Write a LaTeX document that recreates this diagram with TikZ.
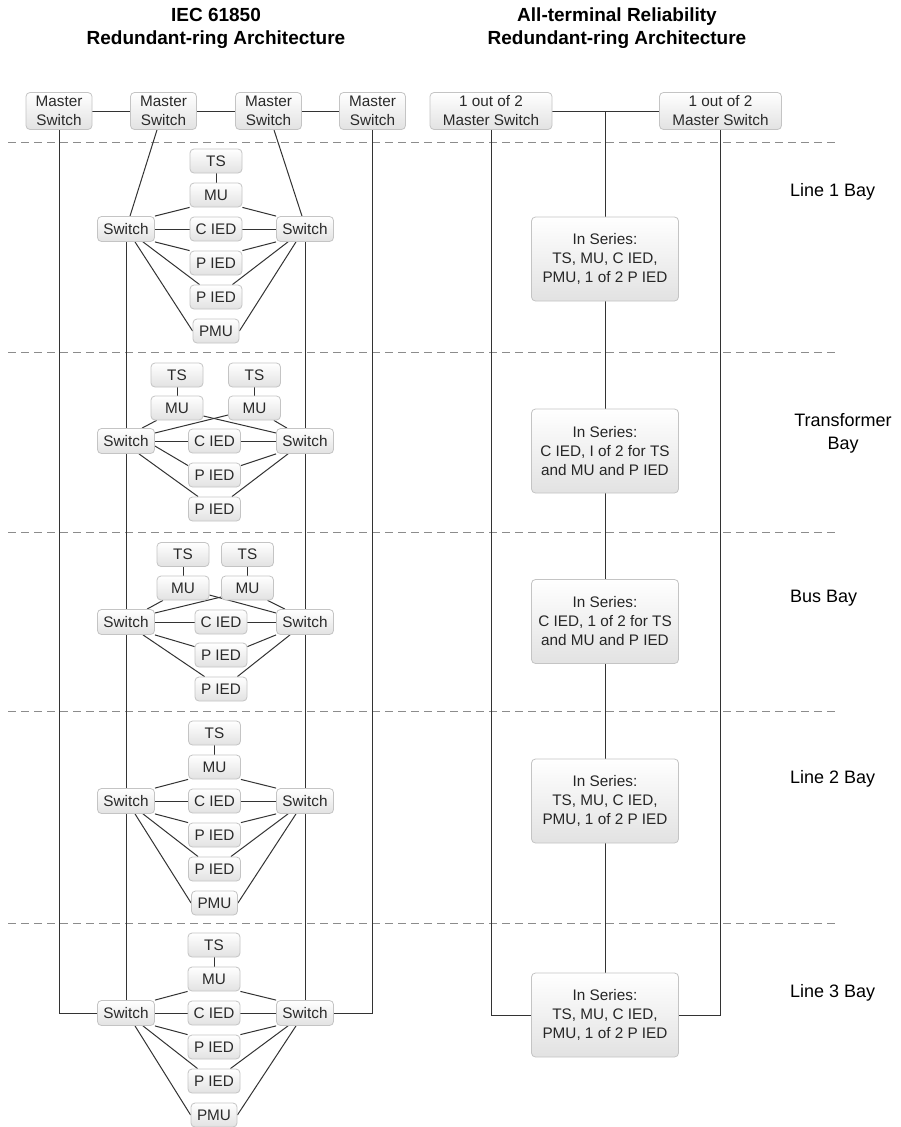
\documentclass[tikz,border=0pt]{standalone}
\usepackage{fontspec}
\setmainfont{Liberation Sans}
\usetikzlibrary{calc}
\pgfdeclarelayer{back}
\pgfdeclarelayer{bg}
\pgfsetlayers{back,bg,main}
\definecolor{boxborder}{HTML}{C4C4C4}
\definecolor{boxbottom}{HTML}{E2E2E2}
\definecolor{boxtext}{HTML}{2A2A2A}
\definecolor{wirec}{HTML}{333333}
\definecolor{dashc}{HTML}{8C8C8C}
\tikzset{
  box/.style={draw=boxborder, line width=0.8pt, rounded corners=4pt, top color=white, bottom color=boxbottom,
    font=\fontsize{15.3}{19}\selectfont, text=boxtext, inner sep=0pt, minimum height=24pt, align=center},
  small/.style={box, minimum width=52pt},
  pmubox/.style={box, minimum width=46pt},
  swbox/.style={box, minimum width=57pt, minimum height=25pt},
  masterbox/.style={box, minimum width=66pt, minimum height=37pt},
  omaster/.style={box, minimum width=122pt, minimum height=37pt},
  seriesbox/.style={box, minimum width=147pt, minimum height=84pt, text=black!85},
  wire/.style={draw=wirec, line width=1pt},
  baydash/.style={draw=dashc, line width=0.8pt, dash pattern=on 8pt off 5pt},
  baylabel/.style={font=\fontsize{18}{23}\selectfont, text=black, inner sep=0pt},
  titlelabel/.style={font=\bfseries\fontsize{19}{23}\selectfont, text=black, align=center, inner sep=0pt}
}
% line-type bay: #1 prefix, #2 column x, #3 switch-row y
\newcommand{\linebay}[3]{%
  \node[small] (#1ts) at (#2,{#3-68}) {TS};
  \node[small] (#1mu) at (#2,{#3-34}) {MU};
  \node[swbox] (#1L) at (126,#3) {Switch};
  \node[small] (#1c) at (#2,#3) {C IED};
  \node[swbox] (#1R) at (305,#3) {Switch};
  \node[small] (#1p1) at (#2,{#3+34}) {P IED};
  \node[small] (#1p2) at (#2,{#3+68}) {P IED};
  \node[pmubox] (#1pmu) at (#2,{#3+102}) {PMU};
  \begin{pgfonlayer}{bg}
  \draw[wire] (#1ts) -- (#1mu);
  \draw[wire] (#1L.north east) -- (#1mu.south west);
  \draw[wire] (#1R.north west) -- (#1mu.south east);
  \draw[wire] (#1L) -- (#1c);
  \draw[wire] (#1c) -- (#1R);
  \draw[wire] (#1L.south east) -- (#1p1.north west);
  \draw[wire] (#1R.south west) -- (#1p1.north east);
  \draw[wire] ([xshift=17pt]#1L.south) -- ([xshift=10pt]#1p2.north west);
  \draw[wire] ([xshift=-17pt]#1R.south) -- ([xshift=-10pt]#1p2.north east);
  \draw[wire] ([xshift=9pt]#1L.south) -- (#1pmu.west);
  \draw[wire] ([xshift=-9pt]#1R.south) -- (#1pmu.east);
  \end{pgfonlayer}
}
\begin{document}
\begin{tikzpicture}[x=1pt,y=-1pt]
\useasboundingbox (0,0) rectangle (900,1127);
\begin{pgfonlayer}{back}
\fill[white] (0,0) rectangle (900,1127);
\end{pgfonlayer}

% titles
\node[titlelabel] (t1) at (216,28.5) {IEC 61850\\Redundant-ring Architecture};
\node[titlelabel] (t2) at (617,28.5) {All-terminal Reliability\\Redundant-ring Architecture};

% bay separators
\begin{pgfonlayer}{back}
\foreach \yy in {142,352,532,711,923}
  \draw[baydash] (8,\yy) -- (835,\yy);
\end{pgfonlayer}

% ---------- left: IEC 61850 ----------
\node[masterbox] (m1) at (59,111) {Master\\Switch};
\node[masterbox] (m2) at (163.5,111) {Master\\Switch};
\node[masterbox] (m3) at (268.5,111) {Master\\Switch};
\node[masterbox] (m4) at (372.5,111) {Master\\Switch};

% Line 1 bay
\linebay{A}{216}{229}

% Transformer bay
\node[small] (Bts1) at (177,375) {TS};
\node[small] (Bts2) at (254.5,375) {TS};
\node[small] (Bmu1) at (177,408) {MU};
\node[small] (Bmu2) at (254.5,408) {MU};
\node[swbox] (BL) at (126,441) {Switch};
\node[small] (Bc) at (214.5,441) {C IED};
\node[swbox] (BR) at (305,441) {Switch};
\node[small] (Bp1) at (214.5,475) {P IED};
\node[small] (Bp2) at (214.5,509) {P IED};

% Bus bay
\node[small] (Cts1) at (183,554.5) {TS};
\node[small] (Cts2) at (247.5,554.5) {TS};
\node[small] (Cmu1) at (183,588) {MU};
\node[small] (Cmu2) at (247.5,588) {MU};
\node[swbox] (CL) at (126,622) {Switch};
\node[small] (Cc) at (221,622) {C IED};
\node[swbox] (CR) at (305,622) {Switch};
\node[small] (Cp1) at (221,655) {P IED};
\node[small] (Cp2) at (221,689) {P IED};

% Line 2 bay
\linebay{D}{214.5}{801}
% Line 3 bay
\linebay{E}{214}{1013}

% ---------- right: all-terminal reliability ----------
\node[omaster] (om1) at (491,111) {1 out of 2\\Master Switch};
\node[omaster] (om2) at (720.5,111) {1 out of 2\\Master Switch};
\coordinate (jn) at (605,111);
\node[seriesbox] (s1) at (605,259) {In Series:\\TS, MU, C IED,\\PMU, 1 of 2 P IED};
\node[seriesbox] (s2) at (605,451) {In Series:\\C IED, I of 2 for TS\\and MU and P IED};
\node[seriesbox] (s3) at (605,621.5) {In Series:\\C IED, 1 of 2 for TS\\and MU and P IED};
\node[seriesbox] (s4) at (605,801) {In Series:\\TS, MU, C IED,\\PMU, 1 of 2 P IED};
\node[seriesbox] (s5) at (605,1015) {In Series:\\TS, MU, C IED,\\PMU, 1 of 2 P IED};

% bay labels
\node[baylabel, anchor=west] (l1) at (790,192) {Line 1 Bay};
\node[baylabel, align=center] (l2) at (843,433.5) {Transformer\\Bay};
\node[baylabel, anchor=west] (l3) at (790,598) {Bus Bay};
\node[baylabel, anchor=west] (l4) at (790,779) {Line 2 Bay};
\node[baylabel, anchor=west] (l5) at (790,993) {Line 3 Bay};

\begin{pgfonlayer}{bg}
% master ring
\draw[wire] (m1) -- (m2);
\draw[wire] (m2) -- (m3);
\draw[wire] (m3) -- (m4);
\draw[wire] (m1.south) |- (EL.west);
\draw[wire] (m4.south) |- (ER.east);
\draw[wire] ([xshift=-6.5pt]m2.south) -- ([xshift=4pt]AL.north);
\draw[wire] ([xshift=5.5pt]m3.south) -- ([xshift=-3pt]AR.north);
% switch chains
\draw[wire] (AL.south) -- (BL.north);
\draw[wire] (BL.south) -- (CL.north);
\draw[wire] (CL.south) -- (DL.north);
\draw[wire] (DL.south) -- (EL.north);
\draw[wire] (AR.south) -- (BR.north);
\draw[wire] (BR.south) -- (CR.north);
\draw[wire] (CR.south) -- (DR.north);
\draw[wire] (DR.south) -- (ER.north);
% transformer bay
\draw[wire] (Bts1) -- (Bmu1);
\draw[wire] (Bts2) -- (Bmu2);
\draw[wire] ([xshift=6pt]Bmu1.south west) -- ([xshift=16pt]BL.north);
\draw[wire] ([yshift=-8pt]Bmu1.east) -- ([yshift=8pt]BR.west);
\draw[wire] ([yshift=-7pt]Bmu2.west) -- ([yshift=8pt]BL.east);
\draw[wire] ([xshift=-7pt]Bmu2.south east) -- ([xshift=-18pt]BR.north);
\draw[wire] (BL) -- (Bc);
\draw[wire] (Bc) -- (BR);
\draw[wire] ([yshift=-5pt]BL.east) -- ([yshift=-3pt]Bp1.north west);
\draw[wire] (BR.south west) -- ([yshift=-3pt]Bp1.north east);
\draw[wire] ([xshift=13pt]BL.south) -- ([xshift=10pt]Bp2.north west);
\draw[wire] ([xshift=-17pt]BR.south) -- ([xshift=-9pt]Bp2.north east);
% bus bay
\draw[wire] (Cts1) -- (Cmu1);
\draw[wire] (Cts2) -- (Cmu2);
\draw[wire] ([xshift=-20pt]Cmu1.south) -- ([xshift=21pt]CL.north);
\draw[wire] ([yshift=-7pt]Cmu1.east) -- ([yshift=9pt]CR.west);
\draw[wire] ([yshift=-9pt]Cmu2.west) -- ([yshift=9pt]CL.east);
\draw[wire] ([xshift=20pt]Cmu2.south) -- ([xshift=-20pt]CR.north);
\draw[wire] (CL) -- (Cc);
\draw[wire] (Cc) -- (CR);
\draw[wire] (CL.south east) -- ([yshift=-4pt]Cp1.north west);
\draw[wire] (CR.south west) -- ([yshift=-4pt]Cp1.north east);
\draw[wire] ([xshift=17pt]CL.south) -- ([xshift=10pt]Cp2.north west);
\draw[wire] ([xshift=-15pt]CR.south) -- ([xshift=-10pt]Cp2.north east);
% right column
\draw[wire] (om1) -- (om2);
\draw[wire] (jn) -- (s1.north);
\draw[wire] (s1) -- (s2);
\draw[wire] (s2) -- (s3);
\draw[wire] (s3) -- (s4);
\draw[wire] (s4) -- (s5);
\draw[wire] (om1.south) |- (s5.west);
\draw[wire] (om2.south) |- (s5.east);
\end{pgfonlayer}
\end{tikzpicture}
\end{document}
